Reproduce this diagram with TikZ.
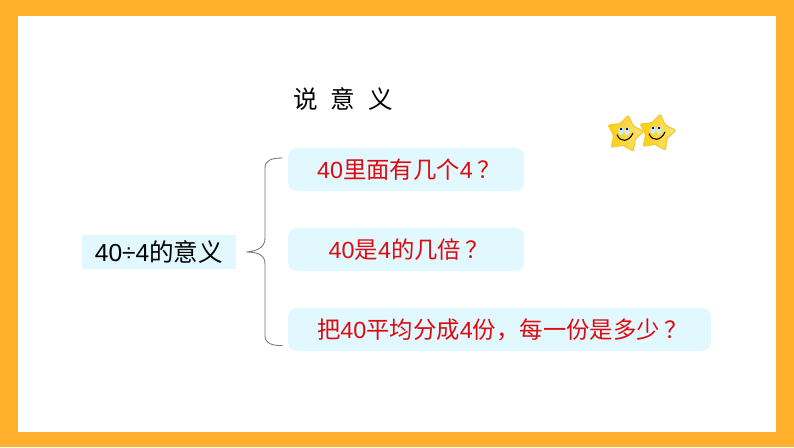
\documentclass[tikz,border=0pt]{standalone}
\usepackage{fontspec}
\setmainfont{Liberation Sans}
\newfontfamily\cjk{Noto Sans CJK SC}
\usetikzlibrary{shapes.geometric}
\definecolor{frameorange}{RGB}{255,177,46}
\definecolor{boxblue}{RGB}{224,248,254}
\definecolor{askred}{RGB}{222,10,16}
\definecolor{bracegray}{RGB}{120,120,120}
\definecolor{staryellow}{RGB}{255,205,10}
\definecolor{staredge}{RGB}{240,200,50}
\tikzset{
  askbox/.style={fill=boxblue, rounded corners=1.8mm, inner sep=0pt, minimum height=0.86cm, text=askred, font=\fontsize{13.3}{15}\selectfont},
  meanbox/.style={fill=boxblue, inner sep=0pt, minimum width=3.08cm, minimum height=0.68cm, font=\fontsize{14}{15}\selectfont},
  titletext/.style={inner sep=0pt, font=\fontsize{14}{15}\selectfont},
  bracelink/.style={draw=bracegray, line width=0.5pt}
}
\begin{document}
\begin{tikzpicture}[x=0.02cm, y=-0.02cm]
%--- frame ---
\fill[frameorange] (0,0) rectangle (794,447);
\fill[white] (18,16) rectangle (776,432);
%--- title ---
\node[titletext] (title) at (343,99) {{\cjk 说}\hspace{7.3pt}{\cjk 意}\hspace{7.3pt}{\cjk 义}};
%--- left box ---
\node[meanbox] (mean) at (159,252) {40÷4{\cjk 的意义}};
%--- question boxes ---
\node[askbox, minimum width=4.72cm] (askA) at (406,169.5) {\hspace{3.4pt}40{\cjk 里面有几个}4\hspace{0.2em}{\cjk ？}};
\node[askbox, minimum width=4.72cm] (askB) at (406,249.5) {\hspace{3.4pt}40{\cjk 是}4{\cjk 的几倍}\hspace{0.2em}{\cjk ？}};
\node[askbox, minimum width=8.46cm] (askC) at (499.5,329.5) {\hspace{3.4pt}{\cjk 把}40{\cjk 平均分成}4{\cjk 份，每一份是多少}\hspace{0.2em}{\cjk ？}};
%--- brace ---
\coordinate (tip) at ([xshift=0.2cm]mean.east);
\coordinate (topend) at ([xshift=-0.1cm, yshift=0.23cm]askA.west);
\coordinate (botend) at ([xshift=-0.1cm, yshift=-0.32cm]askC.west);
\draw[bracelink] (topend) .. controls (272,158) and (265,160) .. (265,168) -- (265,238)
  .. controls (265,247) and (258,251) .. (tip)
  .. controls (258,252) and (265,255) .. (265,264) -- (265,336)
  .. controls (265,343) and (272,346) .. (botend);
%--- stars ---
\foreach \sx/\sy in {625/134, 657/133} {
  \node[star, star points=5, star point ratio=1.65, minimum size=0.76cm, inner sep=0pt, rotate=-10, rounded corners=0.6pt,
    left color=staryellow, right color=staryellow!55!white, draw=staredge, line width=0.6pt] at (\sx,\sy) {};
  \fill[white!80!cyan] (\sx-4,\sy-3) ellipse (2.6 and 4);
  \fill[white!80!cyan] (\sx+2,\sy-3) ellipse (2.6 and 4);
  \fill[black!60!blue] (\sx-4,\sy-5) circle (1.3);
  \fill[black!60!blue] (\sx+2,\sy-5) circle (1.3);
  \draw[black, line width=0.6pt] (\sx-8,\sy+0.5) .. controls (\sx-5,\sy+9) and (\sx+4,\sy+8) .. (\sx+8,\sy-1);
}
\end{tikzpicture}
\end{document}
